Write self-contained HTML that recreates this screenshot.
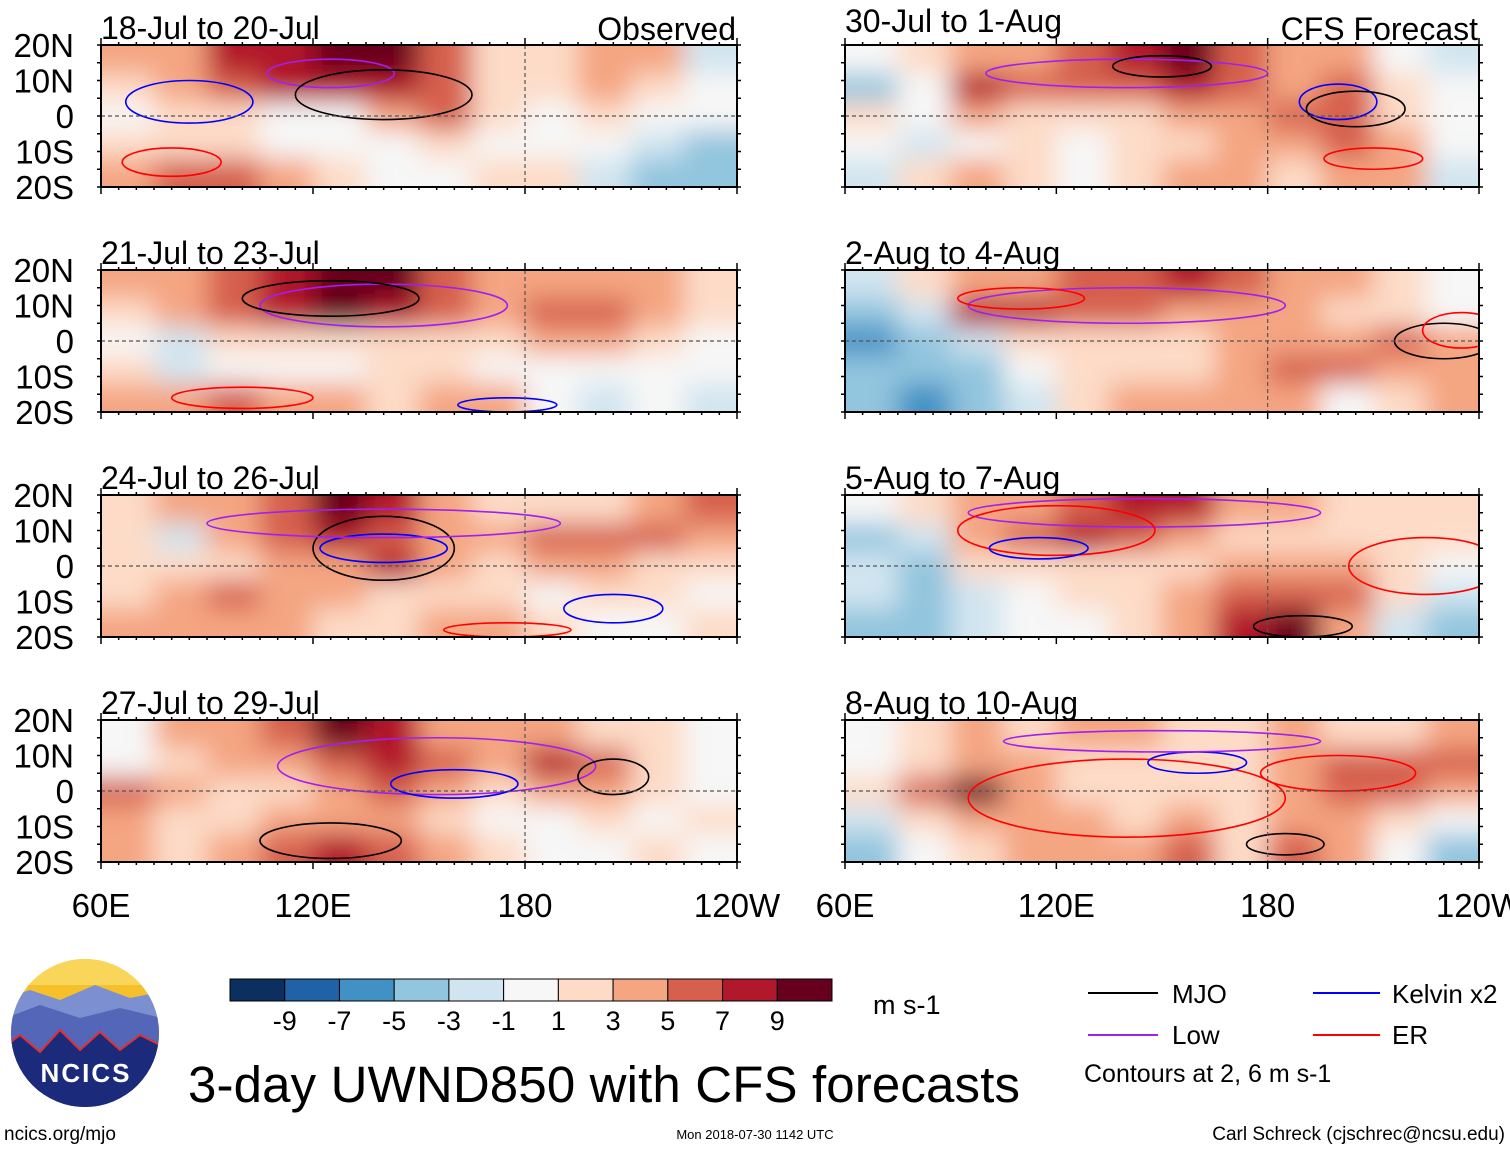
<!DOCTYPE html>
<html><head><meta charset="utf-8">
<style>
body{margin:0;background:#fff;}
svg{display:block;font-family:"Liberation Sans",sans-serif;}
</style></head>
<body>
<svg id="fig" width="1510" height="1149" viewBox="0 0 1510 1149" xmlns="http://www.w3.org/2000/svg">
<defs>
<filter id="blur" x="-10%" y="-20%" width="120%" height="140%"><feGaussianBlur stdDeviation="13"/></filter>
</defs>
<g id="panels"></g>
<g id="legend">
  <g id="colorbar"></g>
  <text x="873" y="1014" font-size="27">m s-1</text>
  <line x1="1088" y1="993" x2="1158" y2="993" stroke="#000" stroke-width="2"/>
  <text x="1172" y="1003" font-size="26">MJO</text>
  <line x1="1088" y1="1035" x2="1158" y2="1035" stroke="#a020f0" stroke-width="2"/>
  <text x="1172" y="1044" font-size="26">Low</text>
  <line x1="1313" y1="993" x2="1380" y2="993" stroke="#0000ff" stroke-width="2"/>
  <text x="1392" y="1003" font-size="26">Kelvin x2</text>
  <line x1="1313" y1="1035" x2="1380" y2="1035" stroke="#ff0000" stroke-width="2"/>
  <text x="1392" y="1044" font-size="26">ER</text>
  <text x="1084" y="1082" font-size="25">Contours at 2, 6 m s-1</text>
</g>
<g>
  <clipPath id="lc"><circle cx="85" cy="1033" r="74"/></clipPath>
  <g clip-path="url(#lc)">
    <rect x="0" y="955" width="170" height="160" fill="#f6c02a"/>
    <rect x="0" y="955" width="170" height="30" fill="#f9d65a"/>
    <path d="M0 1000 L30 990 L60 1000 L95 985 L130 998 L170 990 L170 1115 L0 1115Z" fill="#7b8fd1"/>
    <path d="M0 1020 L40 1005 L80 1018 L120 1008 L170 1020 L170 1115 L0 1115Z" fill="#5366b8"/>
    <path d="M0 1050 L20 1035 L40 1052 L60 1030 L80 1050 L100 1032 L120 1050 L140 1035 L170 1050 L170 1115 L0 1115Z" fill="#1b2a7a" stroke="#e03030" stroke-width="2"/>
  </g>
  <text x="86" y="1082" font-size="26" font-weight="bold" fill="#fff" text-anchor="middle" letter-spacing="2">NCICS</text>
</g>
<text x="188" y="1102" font-size="51" textLength="832">3-day UWND850 with CFS forecasts</text>
<text x="4" y="1140" font-size="19">ncics.org/mjo</text>
<text x="755" y="1139" font-size="13" text-anchor="middle">Mon 2018-07-30 1142 UTC</text>
<text x="1505" y="1140" font-size="19" text-anchor="end">Carl Schreck (cjschrec@ncsu.edu)</text>
</svg>
<script>
// Data: 5 latitude rows (20N..20S) x 12 longitude columns (60E..120W), m/s
const panelTitles = ["18-Jul to 20-Jul","21-Jul to 23-Jul","24-Jul to 26-Jul","27-Jul to 29-Jul","30-Jul to 1-Aug","2-Aug to 4-Aug","5-Aug to 7-Aug","8-Aug to 10-Aug"];
const p1 = [[3,4,7,8,9,9,5,2,2,4,3,-2],[2,3,6,8,7,8,6,2,1,3,1,-1],[-1,1,2,-1,-1,4,5,1,0,1,0,0],[1,2,1,-1,-1,0,1,0,0,0,-2,-4],[4,6,5,3,1,0,-1,1,1,-3,-5,-5]];
const p2 = [[3,3,5,8,10,10,5,3,3,3,3,1],[2,3,5,8,9,8,6,4,5,5,3,1],[-1,-2,1,1,1,1,2,2,3,4,1,0],[1,-2,0,-1,0,1,1,0,0,-1,0,-1],[3,4,6,4,3,1,3,3,0,-2,-1,-2]];
const p3 = [[1,3,4,6,10,8,4,2,1,2,4,5],[1,-2,3,5,7,6,4,3,5,6,5,3],[1,2,1,3,4,7,3,1,3,4,2,1],[2,3,5,4,4,2,1,1,0,2,1,0],[3,4,4,4,2,1,4,3,1,-1,0,1]];
const p4 = [[-1,3,4,6,10,7,4,3,3,2,1,0],[-1,1,3,4,5,8,6,4,7,5,2,0],[5,4,1,1,3,6,4,1,4,3,1,0],[3,2,2,4,4,4,2,0,0,1,0,1],[3,2,4,6,7,5,3,1,0,0,1,0]];
const p5 = [[-1,2,4,4,5,8,9,6,4,3,-1,-2],[-4,-1,7,5,5,6,7,5,4,5,2,-1],[1,-1,3,2,1,2,3,3,6,5,2,-1],[-1,-3,-1,1,0,1,2,3,4,5,3,-1],[-3,1,4,2,0,1,3,3,2,4,3,-2]];
const p6 = [[-3,2,3,3,5,6,8,5,4,3,2,0],[-5,-3,7,8,5,5,4,4,3,2,1,0],[-6,-4,-2,1,1,2,2,3,3,4,6,4],[-4,-5,-5,-1,1,1,2,3,5,5,4,3],[-4,-7,-5,-2,1,4,4,3,3,-1,1,3]];
const p7 = [[-1,2,3,4,6,8,7,4,3,2,1,1],[-4,-2,4,5,7,5,3,2,2,1,1,1],[-3,-4,1,1,1,1,2,3,4,4,2,-1],[-2,-4,-2,-1,1,1,3,5,6,5,1,-2],[-4,-4,-2,-1,-1,1,3,7,10,4,-2,-4]];
const p8 = [[-1,1,3,2,4,4,2,2,3,2,2,3],[-1,1,3,3,2,1,1,2,4,6,6,5],[1,5,10,4,1,1,1,2,3,5,5,4],[-3,1,3,4,3,2,3,1,4,4,1,-1],[-4,-1,1,3,3,4,5,1,5,3,-1,-4]];
const fields = [p1,p2,p3,p4,p5,p6,p7,p8];
// contours: [type, lon, lat, halfWidthDeg, halfHeightDeg]
const contours1 = [["low",125,12,18,4],["mjo",140,6,25,7],["kelvin",85,4,18,6],["er",80,-13,14,4]];
const contours2 = [["low",140,10,35,6],["mjo",125,12,25,5],["er",100,-16,20,3],["kelvin",175,-18,14,2]];
const contours3 = [["mjo",140,5,20,9],["kelvin",140,5,18,4],["low",140,12,50,4],["er",175,-18,18,2],["kelvin",205,-12,14,4]];
const contours4 = [["low",155,7,45,8],["kelvin",160,2,18,4],["mjo",205,4,10,5],["mjo",125,-14,20,5]];
const contours5 = [["low",140,12,40,4],["mjo",150,14,14,3],["kelvin",200,4,11,5],["mjo",205,2,14,5],["er",210,-12,14,3]];
const contours6 = [["low",140,10,45,5],["er",110,12,18,3],["mjo",230,0,14,5],["er",235,3,11,5]];
const contours7 = [["low",145,15,50,4],["er",120,10,28,7],["kelvin",115,5,14,3],["mjo",190,-17,14,3],["er",225,0,22,8]];
const contours8 = [["er",140,-2,45,11],["kelvin",160,8,14,3],["low",150,14,45,3],["mjo",185,-15,11,3],["er",200,5,22,5]];
const contourSets = [contours1,contours2,contours3,contours4,contours5,contours6,contours7,contours8];
const cbLabels = ["-9","-7","-5","-3","-1","1","3","5","7","9"];
const lonTicks = ["60E","120E","180","120W"];
const latTicks = ["20N","10N","0","10S","20S"];

const colors = ["#0b2f5e","#1f62a8","#4291c5","#92c5de","#d1e5f0","#f7f7f7","#fddbc7","#f4a582","#d6604d","#b2182b","#67001f"];
const lineCol = {mjo:"#000",low:"#a020f0",kelvin:"#0000ff",er:"#ff0000"};
function colorFor(v){const b=[-9,-7,-5,-3,-1,1,3,5,7,9];let i=0;while(i<b.length&&v>=b[i])i++;return colors[i];}
const NS="http://www.w3.org/2000/svg";
function mk(tag,attrs,parent){const e=document.createElementNS(NS,tag);for(const k in attrs)e.setAttribute(k,attrs[k]);parent.appendChild(e);return e;}
const root=document.getElementById('panels');
const rowsY=[45,270,495,720],H=142;
for(let p=0;p<8;p++){
  const left=p<4;
  const x0=left?101:845,x1=left?737:1479,W=x1-x0,y0=rowsY[p%4];
  const X=lon=>x0+(lon-60)/180*W, Y=lat=>y0+(20-lat)/40*H;
  const g=mk('g',{},root);
  
  
  const cid='clip'+p;
  const cp=mk('clipPath',{id:cid},g);mk('rect',{x:x0,y:y0,width:W,height:H},cp);
  const cg=mk('g',{'clip-path':'url(#'+cid+')'},g);
  mk('rect',{x:x0,y:y0,width:W,height:H,fill:'#f7f7f7'},cg);
  const hg=mk('g',{filter:'url(#blur)'},cg);
  const f=fields[p],nr=f.length,nc=f[0].length;
  for(let r=0;r<nr;r++)for(let c=0;c<nc;c++){
    const la=20-r*40/nr, lo=60+c*180/nc;
    let xa=X(lo),xb=X(lo+180/nc),ya=Y(la),yb=Y(la-40/nr);
    if(c===0)xa-=40;if(c===nc-1)xb+=40;if(r===0)ya-=40;if(r===nr-1)yb+=40;
    const cell=mk('rect',{x:xa,y:ya,width:xb-xa+1,height:yb-ya+1,fill:colorFor(f[r][c])},hg);
    
    
  }
  contourSets[p].forEach(ct=>{
    const e=mk('ellipse',{cx:X(ct[1]),cy:Y(ct[2]),rx:ct[3]/180*W,ry:ct[4]/40*H,fill:'none',stroke:lineCol[ct[0]],'stroke-width':1.6},cg);
    
    
  });
  mk('line',{x1:x0,y1:Y(0),x2:x1,y2:Y(0),stroke:'#555','stroke-dasharray':'4,3','stroke-width':1.2},g);
  mk('line',{x1:X(180),y1:y0,x2:X(180),y2:y0+H,stroke:'#555','stroke-dasharray':'4,3','stroke-width':1.2},g);
  const fr=mk('rect',{x:x0,y:y0,width:W,height:H,fill:'none',stroke:'#000','stroke-width':2},g);
  
  
  for(let lo=60;lo<=240;lo+=5){const big=lo%60===0;const tl=big?7:3;
    mk('line',{x1:X(lo),y1:y0,x2:X(lo),y2:y0-tl,stroke:'#000','stroke-width':1.5},g);
    mk('line',{x1:X(lo),y1:y0+H,x2:X(lo),y2:y0+H+tl,stroke:'#000','stroke-width':1.5},g);}
  for(let la=-20;la<=20;la+=5){mk('line',{x1:x0-4,y1:Y(la),x2:x0,y2:Y(la),stroke:'#000','stroke-width':1.5},g);
    mk('line',{x1:x1,y1:Y(la),x2:x1+4,y2:Y(la),stroke:'#000','stroke-width':1.5},g);}
  const t=mk('text',{x:x0,y:y0-(p===4?13:6),'font-size':32},g);t.textContent=panelTitles[p];
  
  
  if(p===0||p===4){const s=mk('text',{x:x1-1,y:y0-5,'font-size':32,'text-anchor':'end'},g);s.textContent=p===0?"Observed":"CFS Forecast";
    
    }
  if(left){latTicks.forEach((lt,i)=>{const la=20-i*10;const tt=mk('text',{x:74,y:Y(la)+12,'font-size':33,'text-anchor':'end'},g);tt.textContent=lt;
    
    });}
  if(p%4===3){lonTicks.forEach((lt,i)=>{const tt=mk('text',{x:X(60+i*60),y:917,'font-size':33,'text-anchor':'middle'},g);tt.textContent=lt;
    
    });}
}
const cb=document.getElementById('colorbar');
const cbx=230,cbw=602/11;
colors.forEach((c,i)=>{const r=mk('rect',{x:cbx+i*cbw,y:979,width:cbw,height:22,fill:c,stroke:'#000','stroke-width':1},cb);
  
  });
cbLabels.forEach((l,i)=>{const t=mk('text',{x:cbx+(i+1)*cbw,y:1030,'font-size':27,'text-anchor':'middle'},cb);t.textContent=l;
  
  });
</script>
</body></html>
